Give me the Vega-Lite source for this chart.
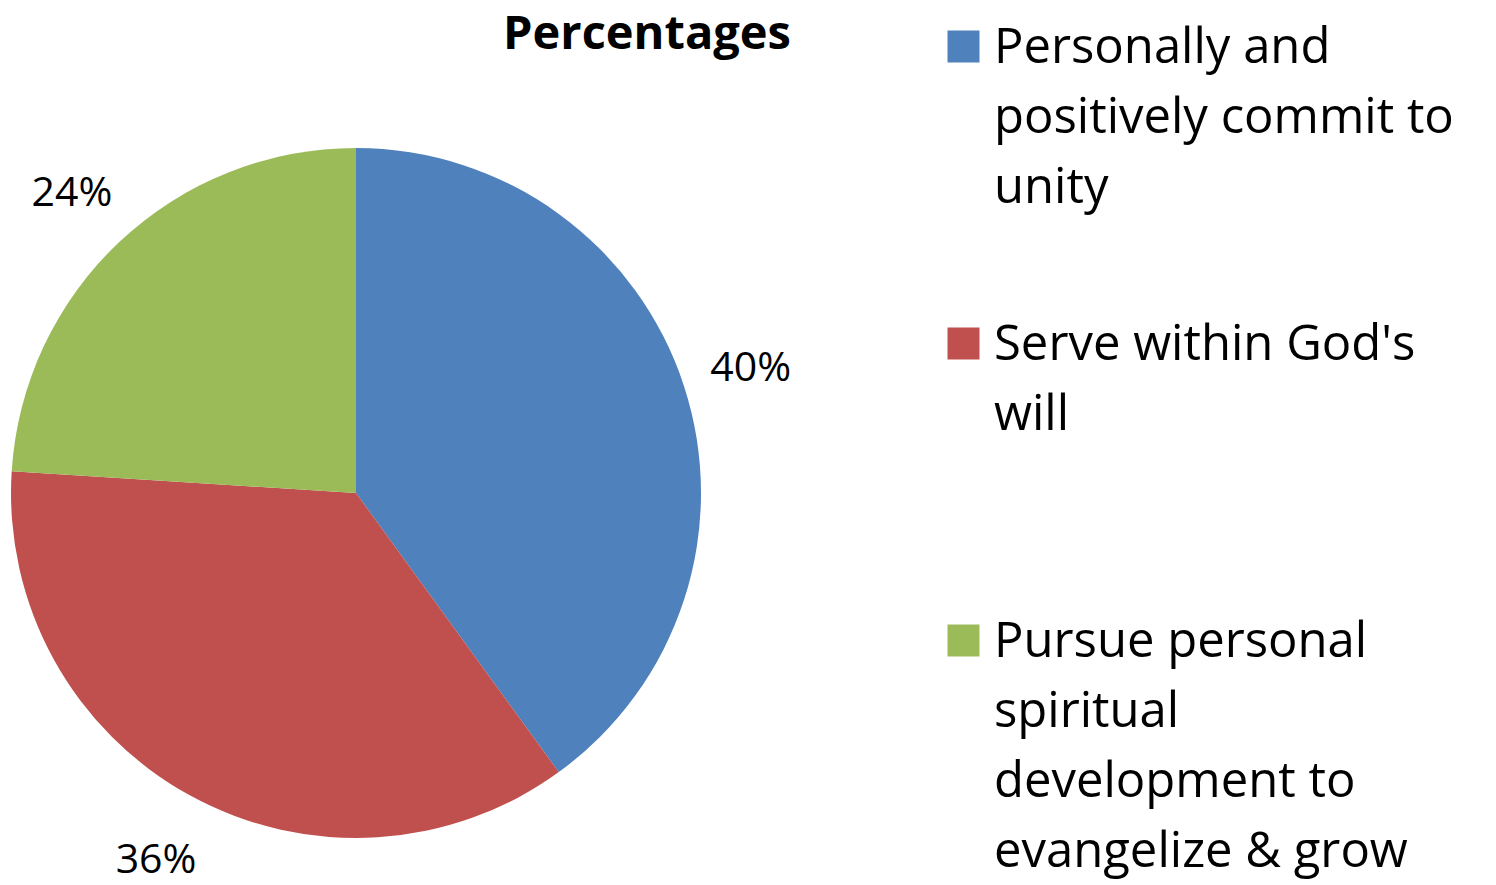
{
  "$schema": "https://vega.github.io/schema/vega-lite/v6.json",
  "autosize": "none",
  "width": 712,
  "height": 866,
  "padding": {"left": 0, "top": 60, "right": 784, "bottom": 0},
  "background": "white",
  "title": {"text": "Percentages", "font": "Open Sans", "fontSize": 47, "fontWeight": "bold", "color": "black", "anchor": "middle", "dx": 291, "offset": 0, "dy": 37},
  "data": {"values": [
    {"category": "Personally and positively commit to unity", "pct": 0.40},
    {"category": "Serve within God's will", "pct": 0.36},
    {"category": "Pursue personal spiritual development to evangelize & grow", "pct": 0.24}
  ]},
  "encoding": {
    "theta": {"field": "pct", "type": "quantitative", "stack": true},
    "order": {"field": "pct", "type": "quantitative", "sort": "descending"},
    "color": {
      "field": "category", "type": "nominal",
      "scale": {"domain": ["Personally and positively commit to unity", "Serve within God's will", "Pursue personal spiritual development to evangelize & grow"], "range": ["#4F81BD", "#C0504D", "#9BBB59"]},
      "legend": {
        "title": null, "orient": "none", "legendX": 939, "legendY": -38,
        "padding": 0, "symbolType": "square", "symbolSize": 1024, "symbolStrokeWidth": 0,
        "labelFont": "Open Sans", "labelFontSize": 49, "labelColor": "black", "labelLimit": 0,
        "labelOffset": 6, "rowPadding": 36, "labelBaseline": "alphabetic",
        "labelExpr": "datum.value == 'Personally and positively commit to unity' ? ['Personally and', 'positively commit to', 'unity', ''] : datum.value == \"Serve within God's will\" ? [\"Serve within God's\", 'will', '', ''] : ['Pursue personal', 'spiritual', 'development to', 'evangelize & grow']"
      }
    }
  },
  "layer": [
    {"mark": {"type": "arc", "outerRadius": 345, "strokeWidth": 0}},
    {"mark": {"type": "text", "radius": 415, "font": "Open Sans", "fontSize": 41, "color": "black", "dy": 4},
     "encoding": {"text": {"field": "pct", "type": "quantitative", "format": ".0%"}, "color": {"value": "black"}}}
  ],
  "config": {
    "view": {"stroke": null},
    "style": {"guide-label": {"lineHeight": 70, "dy": 16}}
  }
}
